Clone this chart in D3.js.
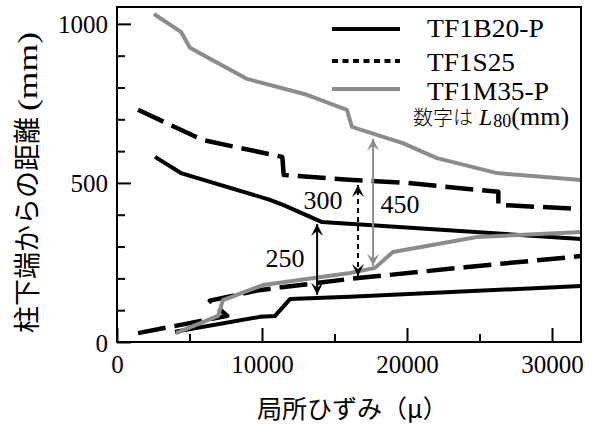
<!DOCTYPE html>
<html><head><meta charset="utf-8">
<script src="https://cdn.jsdelivr.net/npm/d3@7"></script>
<style>body{margin:0;background:#fff} svg{display:block}</style>
</head><body><svg id="c" width="597" height="425"></svg>
<script>
// ---------- data ----------
const seriesNames = ["TF1B20-P", "TF1S25", "TF1M35-P"];
// each specimen has an upper and a lower boundary line: [strain(μ), distance(mm)]
const b20Upper = [[2620,582],[4410,531],[10550,447],[11450,431],[14140,377],[32000,324]];
const b20Lower = [[4000,32],[9860,79],[10900,82],[11930,135],[16070,142],[32000,176]];
const s25Upper = [[1450,730],[5900,635],[11400,582],[11500,525],[16000,510],[20000,500],[26300,472],[26300,431],[32000,418]];
const s25Lower = [[1450,28],[7600,82],[6400,130],[9800,163],[16000,198],[24000,235],[32000,270]];
const m35Upper = [[2550,1031],[4410,975],[5030,925],[8970,827],[13100,777],[15860,730],[16200,676],[19660,626],[22070,578],[26210,531],[32000,509]];
const m35Lower = [[4070,28],[6970,82],[7310,132],[10070,179],[16070,217],[17790,233],[19030,283],[24830,330],[32000,346]];

const xMajorTicks = [0, 10000, 20000, 30000];
const xMinorTicks = [5000, 15000, 25000];
const yMajorTicks = [0, 500, 1000];
const yMinorTicks = [100, 200, 300, 400, 600, 700, 800, 900];

// L80 arrows
const arrowX = [13800, 16620, 17660];
const arrowLow = [142, 201, 233];
const arrowHigh = [377, 500, 645];
const arrowLabels = ["250", "300", "450"];

const xTitle = "局所ひずみ（μ）";
const yTitleMain = "柱下端からの距離";
const yTitleUnit = "(mm)";

// ---------- layout ----------
const L = 117, R = 581, T = 7, B = 342;
const GREY = "#8c8c8c";
const SERIF = "'Liberation Serif','Times New Roman',serif";
const CJK = "'Noto Sans CJK JP','Noto Sans',sans-serif";

const svg = d3.select("#c");
const x = d3.scaleLinear().domain([0, 32000]).range([L, R]);
const y = d3.scaleLinear().domain([0, 1053]).range([B, T]);

const defs = svg.append("defs");
defs.append("clipPath").attr("id", "clip").append("rect")
  .attr("x", L).attr("y", T).attr("width", R - L).attr("height", B - T);

function marker(id, color) {
  defs.append("marker").attr("id", id)
    .attr("viewBox", "-13 -7 14 14").attr("refX", 0).attr("refY", 0)
    .attr("markerWidth", 14).attr("markerHeight", 14)
    .attr("markerUnits", "userSpaceOnUse").attr("orient", "auto-start-reverse")
    .append("path").attr("d", "M0,0 L-12,-6 L-7,0 L-12,6 Z").attr("fill", color);
}
marker("ahB", "#000");
marker("ahG", GREY);

const styles = [
  {stroke: "#000", width: 4, dash: null, legendDash: null},
  {stroke: "#000", width: 4.5, dash: "28,9", legendDash: "6,4.5"},
  {stroke: GREY, width: 4, dash: null, legendDash: null}
];
const seriesLines = [[b20Upper, b20Lower], [s25Upper, s25Lower], [m35Upper, m35Lower]];

const line = d3.line().x(d => x(d[0])).y(d => y(d[1]));
const plot = svg.append("g").attr("clip-path", "url(#clip)");
seriesLines.forEach((pair, i) => {
  pair.forEach(data => {
    plot.append("path").attr("d", line(data))
      .attr("fill", "none").attr("stroke", styles[i].stroke)
      .attr("stroke-width", styles[i].width)
      .attr("stroke-linejoin", "round")
      .attr("stroke-dasharray", styles[i].dash);
  });
});

// arrows
const arrowStyle = [
  {stroke: "#000", dash: null, m: "ahB", dx: -32, anchor: "mid", dy: 8},
  {stroke: "#000", dash: "5,4", m: "ahB", dx: -35, anchor: "top", dy: 26},
  {stroke: GREY, dash: null, m: "ahG", dx: 27, anchor: "mid", dy: 11}
];
arrowX.forEach((ax, i) => {
  const st = arrowStyle[i];
  svg.append("line")
    .attr("x1", x(ax)).attr("x2", x(ax))
    .attr("y1", y(arrowLow[i]) - 2).attr("y2", y(arrowHigh[i]) + 2)
    .attr("stroke", st.stroke).attr("stroke-width", 2)
    .attr("stroke-dasharray", st.dash)
    .attr("marker-start", `url(#${st.m})`).attr("marker-end", `url(#${st.m})`);
  const base = st.anchor === "mid" ? (y(arrowLow[i]) + y(arrowHigh[i])) / 2 : y(arrowHigh[i]);
  svg.append("text").attr("x", x(ax) + st.dx).attr("y", base + st.dy)
    .attr("text-anchor", "middle").attr("font-family", SERIF).attr("font-size", 26)
    .text(arrowLabels[i]);
});

// axes
function styleAxis(g) {
  g.select(".domain").remove();
  g.selectAll(".tick line").attr("stroke", "#000").attr("stroke-width", 2);
  g.selectAll("text").attr("font-family", SERIF).attr("font-size", 25).attr("fill", "#000");
}
svg.append("g").attr("transform", `translate(0,${B})`)
  .call(d3.axisBottom(x).tickValues(xMajorTicks).tickSize(-14).tickFormat(d3.format("d")))
  .call(styleAxis)
  .call(g => g.selectAll("text").attr("y", 31).attr("dy", 0));
svg.append("g").attr("transform", `translate(0,${B})`)
  .call(d3.axisBottom(x).tickValues(xMinorTicks).tickSize(-8).tickFormat(""))
  .call(styleAxis);
svg.append("g").attr("transform", `translate(${L},0)`)
  .call(d3.axisLeft(y).tickValues(yMajorTicks).tickSize(-14).tickFormat(d3.format("d")))
  .call(styleAxis)
  .call(g => g.selectAll("text").attr("x", -9).attr("dy", "0.36em"));
svg.append("g").attr("transform", `translate(${L},0)`)
  .call(d3.axisLeft(y).tickValues(yMinorTicks).tickSize(-8).tickFormat(""))
  .call(styleAxis);

// frame
svg.append("rect").attr("x", L).attr("y", T).attr("width", R - L).attr("height", B - T)
  .attr("fill", "none").attr("stroke", "#000").attr("stroke-width", 2);

// legend
const legY = [29, 61, 89];
const legWidths = [117, 88, 122];
seriesNames.forEach((name, i) => {
  svg.append("line").attr("x1", 332).attr("x2", 400).attr("y1", legY[i]).attr("y2", legY[i])
    .attr("stroke", styles[i].stroke).attr("stroke-width", 4.2)
    .attr("stroke-dasharray", styles[i].legendDash);
  svg.append("text").attr("x", 427).attr("y", legY[i] + 8 + (i === 2 ? 3 : i === 1 ? 2 : 0))
    .attr("font-family", SERIF).attr("font-size", 25)
    .attr("textLength", legWidths[i]).attr("lengthAdjust", "spacingAndGlyphs")
    .text(name);
});
const note = svg.append("text").attr("x", 413).attr("y", 125).attr("fill", "#000");
note.append("tspan").attr("font-family", CJK).attr("font-size", 20).attr("font-weight", 300).text("数字は");
note.append("tspan").attr("font-family", SERIF).attr("font-size", 24).attr("font-style", "italic").attr("dx", 6).text("L");
note.append("tspan").attr("font-family", SERIF).attr("font-size", 18).attr("dx", 1).attr("dy", 2).text("80");
note.append("tspan").attr("font-family", SERIF).attr("font-size", 26).attr("dy", -2).text("(mm)");

// axis titles
svg.append("text").attr("x", 257).attr("y", 418)
  .attr("font-family", CJK).attr("font-size", 25).text(xTitle);
svg.append("text").attr("transform", "translate(37,333) rotate(-90)")
  .attr("font-family", CJK).attr("font-size", 27).text(yTitleMain);
svg.append("text").attr("transform", "translate(37,111) rotate(-90)")
  .attr("font-family", SERIF).attr("font-size", 28)
  .attr("textLength", 79).attr("lengthAdjust", "spacingAndGlyphs").text(yTitleUnit);
</script></body></html>
